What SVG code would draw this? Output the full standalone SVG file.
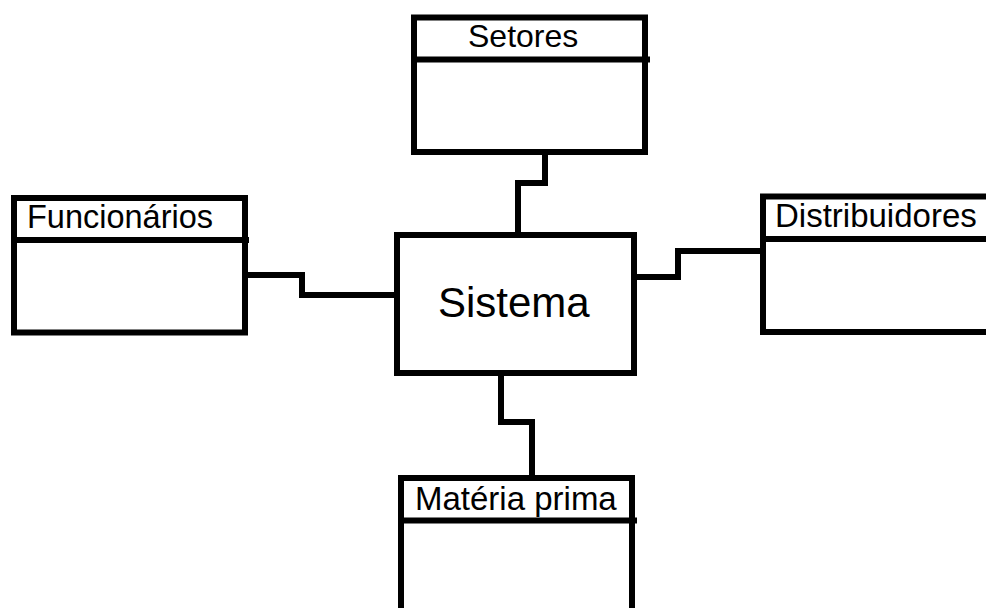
<svg xmlns="http://www.w3.org/2000/svg" width="986" height="608" viewBox="0 0 986 608">
<style>
.box{fill:#fff;stroke:#000;stroke-width:6}
.div{stroke:#000;stroke-width:6;fill:none}
.con{stroke:#000;stroke-width:6;fill:none;stroke-linejoin:miter}
.lbl{font-family:"Liberation Sans",Arial,sans-serif;font-size:33px;fill:#000}
</style>
<rect width="986" height="608" fill="#fff"/>
<g id="connectors">
<polyline class="con" points="545,152 545,183 518,183 518,235"/>
<polyline class="con" points="245,275 302,275 302,295 397,295"/>
<polyline class="con" points="634,277 678,277 678,251 763,251"/>
<polyline class="con" points="501,373 501,422 532,422 532,478"/>
</g>
<g id="setores">
<rect class="box" x="414" y="17.5" width="231" height="134.5"/>
<line class="div" x1="414" y1="59.5" x2="650" y2="59.5"/>
<text class="lbl" x="468" y="47" style="font-size:32px">Setores</text>
</g>
<g id="funcionarios">
<rect class="box" x="14" y="198" width="231" height="134.5"/>
<line class="div" x1="14" y1="240" x2="249" y2="240"/>
<text class="lbl" x="27" y="228" style="font-size:32.5px">Funcionários</text>
</g>
<g id="distribuidores">
<rect class="box" x="763" y="196.5" width="260" height="135.5"/>
<line class="div" x1="763" y1="239" x2="990" y2="239"/>
<text class="lbl" x="775" y="227">Distribuidores</text>
</g>
<g id="sistema">
<rect class="box" x="397" y="235" width="237" height="138"/>
<text class="lbl" x="438" y="317" style="font-size:42px">Sistema</text>
</g>
<g id="materia">
<rect class="box" x="401" y="478" width="231" height="160"/>
<line class="div" x1="401" y1="520.5" x2="637" y2="520.5"/>
<text class="lbl" x="415" y="510">Matéria prima</text>
</g>
</svg>
